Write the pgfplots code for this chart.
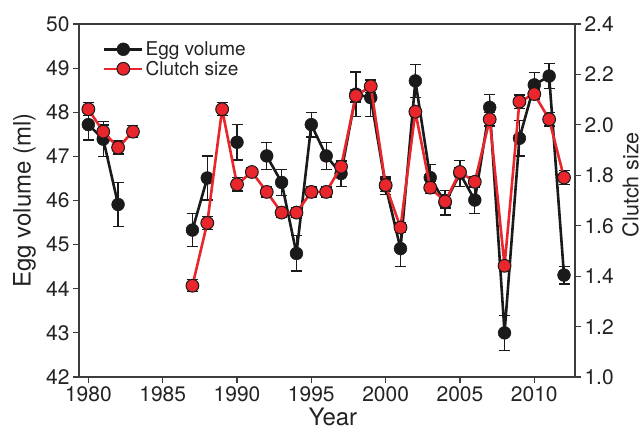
\documentclass[border=0pt]{standalone}
\usepackage{fontspec}
\setmainfont{TeX Gyre Heros}
\usepackage{pgfplots}
\pgfplotsset{compat=1.18}
\usepackage{pgfplotstable}
\definecolor{cred}{RGB}{232,38,43}
\definecolor{cblk}{RGB}{26,26,26}
\definecolor{caxis}{RGB}{60,60,60}
\definecolor{ctext}{RGB}{35,35,35}

\pgfplotstableread{
year egg err
1980 47.72 0.35
1981 47.39 0.40
1982 45.91 0.50
1983 nan nan
1987 45.33 0.38
1988 46.51 0.50
1989 nan nan
1990 47.32 0.40
1991 nan nan
1992 47.01 0.30
1993 46.41 0.30
1994 44.80 0.40
1995 47.72 0.28
1996 47.01 0.30
1997 46.61 0.30
1998 48.41 0.50
1999 48.33 0.42
2000 46.33 0.20
2001 44.91 0.40
2002 48.71 0.38
2003 46.52 0.30
2004 45.95 0.28
2005 46.61 0.30
2006 46.01 0.30
2007 48.11 0.30
2008 43.00 0.40
2009 47.41 0.40
2010 48.62 0.28
2011 48.82 0.28
2012 44.31 0.20
}\eggtab

\pgfplotstableread{
year clutch err
1980 2.062 0.026
1981 1.973 0.026
1982 1.910 0.026
1983 1.973 0.024
1984 nan nan
1987 1.362 0.024
1988 1.611 0.026
1989 2.062 0.026
1990 1.764 0.026
1991 1.813 0.018
1992 1.734 0.020
1993 1.652 0.020
1994 1.652 0.020
1995 1.734 0.020
1996 1.734 0.020
1997 1.834 0.020
1998 2.115 0.024
1999 2.153 0.024
2000 1.761 0.024
2001 1.593 0.018
2002 2.052 0.018
2003 1.751 0.024
2004 1.696 0.026
2005 1.813 0.018
2006 1.774 0.020
2007 2.022 0.026
2008 1.441 0.018
2009 2.092 0.026
2010 2.122 0.020
2011 2.022 0.026
2012 1.791 0.028
}\clutchtab

\pgfplotsset{base/.style={
  scale only axis, width=496pt, height=353pt,
  xmin=1979.37, xmax=2012.74,
  at={(0,0)}, anchor=south west,
  unbounded coords=jump,
  /pgf/number format/assume math mode=true,
  tick label style={font=\fontsize{21}{24}\selectfont, text=ctext},
  tick align=outside, major tick length=6pt,
  axis line style={caxis, line width=1.2pt},
  tick style={caxis, line width=1.2pt},
  label style={text=ctext},
},
ebars/.style={draw=none, mark=none, forget plot,
  error bars/.cd, y dir=both, y explicit,
  error bar style={cblk, line width=1.3pt, solid},
  error mark options={rotate=90, cblk, mark size=5.5pt, line width=1.3pt}},
}

\begin{document}
\begin{tikzpicture}
\begin{axis}[base,
  ymin=42, ymax=50, ytick={42,43,44,45,46,47,48,49,50},
  xtick={1980,1985,1990,1995,2000,2005,2010},
  xticklabel style={/pgf/number format/1000 sep={}},
  xtick pos=bottom, ytick pos=left,
  xlabel={Year},
  xlabel style={font=\fontsize{24}{28}\selectfont, at={(axis description cs:0.512,-0.112)}, anchor=center},
  ylabel={Egg volume (ml)},
  ylabel style={font=\fontsize{24}{28}\selectfont, at={(axis description cs:-0.11,0.5)}, anchor=center},
]
\addplot[ebars] table[x=year, y=egg, y error=err] {\eggtab};
\addplot[cblk, line width=2.6pt, mark=*, mark size=6.4pt,
  mark options={fill=cblk, draw=cblk, line width=0.5pt}]
  table[x=year, y=egg] {\eggtab};
\end{axis}
\begin{axis}[base,
  ymin=1.0, ymax=2.4, ytick={1.0,1.2,1.4,1.6,1.8,2.0,2.2,2.4},
  axis x line=none, axis y line*=right,
  yticklabel style={/pgf/number format/.cd, fixed, fixed zerofill, precision=1},
  ylabel={Clutch size},
  ylabel style={font=\fontsize{21.5}{24}\selectfont, at={(axis description cs:1.112,0.545)}, anchor=center},
  legend style={draw=none, fill=none, font=\fontsize{19}{21}\selectfont, text=ctext,
    at={(axis description cs:0.042,0.962)}, anchor=north west, row sep=0pt},
  legend cell align=left,
  legend image code/.code={\draw[mark repeat=2, mark phase=2, #1] plot coordinates {(0pt,0pt) (19pt,0pt) (38pt,0pt)};},
]
\addlegendimage{cblk, line width=2.6pt, mark=*, mark size=6.4pt, mark options={fill=cblk, draw=cblk, line width=0.5pt}}
\addlegendentry{Egg volume}
\addplot[ebars] table[x=year, y=clutch, y error=err] {\clutchtab};
\addplot[cred, line width=2.6pt, mark=*, mark size=6.4pt,
  mark options={fill=cred, draw=cblk, line width=1pt}]
  table[x=year, y=clutch] {\clutchtab};
\addlegendentry{Clutch size}
\end{axis}
\pgfresetboundingbox
\path[use as bounding box] (-79pt,-54pt) rectangle (563pt,377pt);
\end{tikzpicture}
\end{document}
